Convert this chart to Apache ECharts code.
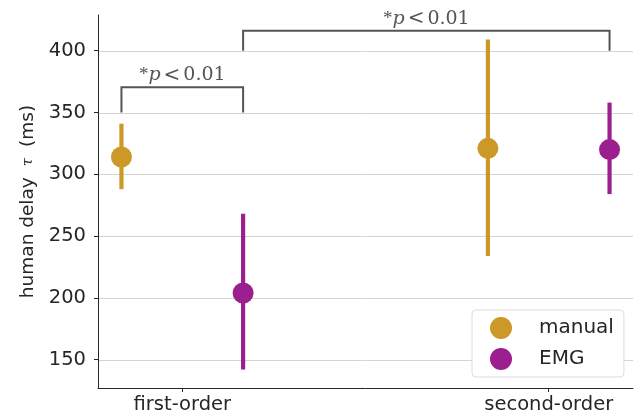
<!DOCTYPE html>
<html>
<head>
<meta charset="utf-8">
<script src="https://cdn.jsdelivr.net/npm/echarts@6/dist/echarts.min.js"></script>
<style>
html,body{margin:0;padding:0;background:#fff;}
#chart{width:641px;height:418px;}
</style>
</head>
<body>
<div id="chart"></div>
<script>
const categories = ['first-order', 'second-order'];
const seriesNames = ['manual', 'EMG'];
const manualMean = [314, 321];
const manualLow = [288, 234];
const manualHigh = [341, 409];
const emgMean = [204, 320];
const emgLow = [142, 284];
const emgHigh = [268, 358];
const yTicks = [150, 200, 250, 300, 350, 400];
// brackets: [category, series] from -> to, base value, top value
const bracketFrom = [[0, 'manual'], [0, 'EMG']];
const bracketTo = [[0, 'EMG'], [1, 'EMG']];
const bracketBase = [350, 400];
const bracketTop = [370.4, 416.2];
const bracketPValue = ['0.01', '0.01'];

const colors = { manual: '#cc9827', EMG: '#9c1f90' };
const dodge = { manual: -0.166, EMG: 0.166 };
const xMin = -0.23, xMax = 1.23;
const yMin = 127.1, yMax = 428.9;
const textColor = '#262626';

const groups = {
  manual: { mean: manualMean, low: manualLow, high: manualHigh },
  EMG: { mean: emgMean, low: emgLow, high: emgHigh }
};

const series = [];

// grid lines
series.push({
  type: 'custom',
  name: 'grid',
  silent: true,
  z: 0,
  data: yTicks.map(v => [xMin, v]),
  encode: { x: 0, y: 1 },
  renderItem: function (params, api) {
    const v = api.value(1);
    const p1 = api.coord([xMin, v]);
    const p2 = api.coord([xMax, v]);
    return {
      type: 'line',
      shape: { x1: p1[0], y1: Math.round(p1[1]) + 0.5, x2: p2[0], y2: Math.round(p1[1]) + 0.5 },
      style: { stroke: '#d4d4d4', lineWidth: 1 }
    };
  }
});

seriesNames.forEach(name => {
  const g = groups[name];
  series.push({
    type: 'custom',
    name: name + ' err',
    silent: true,
    z: 2,
    data: categories.map((c, i) => [i + dodge[name], g.low[i], g.high[i]]),
    encode: { x: 0, y: [1, 2] },
    renderItem: function (params, api) {
      const x = api.value(0);
      const a = api.coord([x, api.value(1)]);
      const b = api.coord([x, api.value(2)]);
      return {
        type: 'line',
        shape: { x1: a[0], y1: a[1], x2: b[0], y2: b[1] },
        style: { stroke: colors[name], lineWidth: 4.2, lineCap: 'butt' }
      };
    }
  });
  series.push({
    type: 'scatter',
    name: name,
    z: 3,
    symbol: 'circle',
    symbolSize: 21,
    itemStyle: { color: colors[name], opacity: 1 },
    data: categories.map((c, i) => [i + dodge[name], g.mean[i]])
  });
});

// significance brackets
series.push({
  type: 'custom',
  name: 'brackets',
  silent: true,
  z: 4,
  data: bracketBase.map((b, i) => [
    bracketFrom[i][0] + dodge[bracketFrom[i][1]],
    bracketTo[i][0] + dodge[bracketTo[i][1]],
    b, bracketTop[i]
  ]),
  encode: { x: [0, 1], y: [2, 3] },
  renderItem: function (params, api) {
    const x1 = api.value(0), x2 = api.value(1), yb = api.value(2), yt = api.value(3);
    const pa = api.coord([x1, yb]);
    const pb = api.coord([x1, yt]);
    const pc = api.coord([x2, yt]);
    const pd = api.coord([x2, yb]);
    return {
      type: 'group',
      children: [
        {
          type: 'polyline',
          shape: { points: [pa, pb, pc, pd] },
          style: { stroke: '#555555', lineWidth: 2, fill: null }
        },
        {
          type: 'text',
          style: {
            x: (pb[0] + pc[0]) / 2,
            y: pb[1] - 12,
            text: '{a|*}{i|p}{l|<}{s|' + bracketPValue[params.dataIndex] + '}',
            align: 'center',
            verticalAlign: 'middle',
            rich: {
              a: { fontFamily: 'Liberation Serif', fontSize: 19, fill: '#555555' },
              s: { fontFamily: 'DejaVu Serif', fontSize: 19, fill: '#555555' },
              l: { fontFamily: 'DejaVu Serif', fontSize: 20, fill: '#555555', padding: [0, 3, 0, 3] },
              i: { fontFamily: 'DejaVu Serif', fontStyle: 'italic', fontSize: 19, fill: '#555555' }
            }
          }
        }
      ]
    };
  }
});

const chart = echarts.init(document.getElementById('chart'), null, { renderer: 'canvas' });
chart.setOption({
  animation: false,
  backgroundColor: '#ffffff',
  grid: { left: 98, right: 8, top: 15, bottom: 30, containLabel: false },
  legend: {
    data: seriesNames,
    orient: 'vertical',
    left: 472,
    top: 310,
    padding: [7, 10, 7, 18],
    itemGap: 9,
    itemWidth: 22,
    itemHeight: 22,
    icon: 'circle',
    borderColor: '#dcdcdc',
    borderWidth: 1,
    borderRadius: 4,
    backgroundColor: '#ffffff',
    textStyle: { fontFamily: 'DejaVu Sans', fontSize: 20, color: textColor, padding: [0, 0, 0, 22] }
  },
  xAxis: {
    type: 'value',
    min: xMin,
    max: xMax,
    axisLine: { show: true, onZero: false, lineStyle: { color: textColor, width: 1 } },
    axisTick: { show: true, customValues: [0, 1], length: 4, lineStyle: { color: textColor } },
    axisLabel: {
      customValues: [0, 1],
      formatter: v => categories[Math.round(v)],
      fontFamily: 'DejaVu Sans', fontSize: 19.5, color: textColor, margin: 7
    },
    splitLine: { show: false }
  },
  yAxis: {
    type: 'value',
    min: yMin,
    max: yMax,
    axisLine: { show: true, onZero: false, lineStyle: { color: textColor, width: 1 } },
    axisTick: { show: true, customValues: yTicks, length: 4, lineStyle: { color: textColor } },
    axisLabel: {
      customValues: yTicks,
      fontFamily: 'DejaVu Sans', fontSize: 19.5, color: textColor, margin: 12
    },
    splitLine: { show: false },
    name: '{n|human delay}{t|τ}{n|(ms)}',
    nameLocation: 'middle',
    nameGap: 59,
    nameRotate: 90,
    nameTextStyle: {
      fontFamily: 'DejaVu Sans',
      fontSize: 18.5,
      color: textColor,
      rich: {
        n: { fontFamily: 'DejaVu Sans', fontSize: 18.5, color: textColor },
        t: { fontFamily: 'DejaVu Serif', fontStyle: 'italic', fontSize: 15, color: textColor, padding: [0, 11, 0, 11] }
      }
    }
  },
  series: series
});
</script>
</body>
</html>
